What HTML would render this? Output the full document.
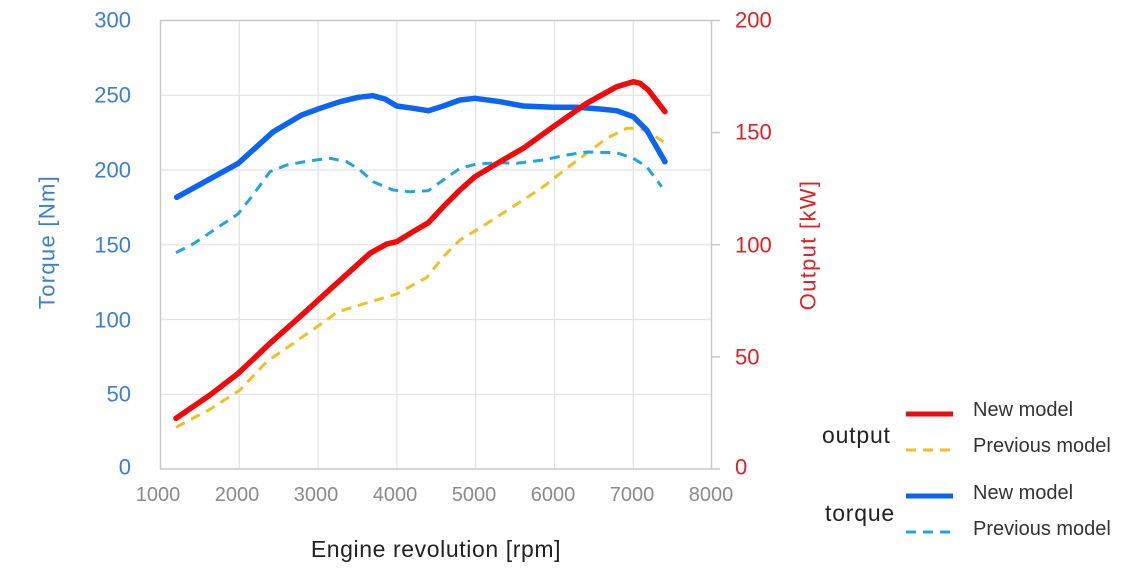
<!DOCTYPE html>
<html><head><meta charset="utf-8"><style>
html,body{margin:0;padding:0;background:#fff;}
svg{display:block;font-family:"Liberation Sans","Noto Sans CJK JP",sans-serif;}
</style></head><body>
<svg width="1140" height="570" viewBox="0 0 1140 570" xmlns="http://www.w3.org/2000/svg">
<rect width="1140" height="570" fill="#fff"/>
<!-- grid -->
<g stroke="#e2e2e2" stroke-width="1.2" fill="none">
<line x1="160.5" y1="95.3" x2="711.5" y2="95.3"/>
<line x1="160.5" y1="170" x2="711.5" y2="170"/>
<line x1="160.5" y1="244.8" x2="711.5" y2="244.8"/>
<line x1="160.5" y1="319.5" x2="711.5" y2="319.5"/>
<line x1="160.5" y1="394.3" x2="711.5" y2="394.3"/>
<line x1="239.3" y1="20.5" x2="239.3" y2="469"/>
<line x1="318.1" y1="20.5" x2="318.1" y2="469"/>
<line x1="396.9" y1="20.5" x2="396.9" y2="469"/>
<line x1="475.7" y1="20.5" x2="475.7" y2="469"/>
<line x1="554.5" y1="20.5" x2="554.5" y2="469"/>
<line x1="633.3" y1="20.5" x2="633.3" y2="469"/>
</g>
<g stroke="#c9c9c9" stroke-width="1.5" fill="none">
<rect x="160.5" y="20.5" width="551" height="448.5"/>
<line x1="711.5" y1="20.5" x2="720" y2="20.5"/>
<line x1="711.5" y1="132.6" x2="720" y2="132.6"/>
<line x1="711.5" y1="244.8" x2="720" y2="244.8"/>
<line x1="711.5" y1="356.9" x2="720" y2="356.9"/>
<line x1="711.5" y1="469" x2="720" y2="469"/>
</g>
<!-- left ticks -->
<g fill="#3c7ed6" font-size="22" text-anchor="end" dominant-baseline="central">
<text x="131" y="20">300</text>
<text x="131" y="95">250</text>
<text x="131" y="170">200</text>
<text x="131" y="245">150</text>
<text x="131" y="320">100</text>
<text x="131" y="394">50</text>
<text x="131" y="467">0</text>
</g>
<!-- right ticks -->
<g fill="#dc2128" font-size="22" text-anchor="start" dominant-baseline="central">
<text x="735" y="20">200</text>
<text x="735" y="132">150</text>
<text x="735" y="245">100</text>
<text x="735" y="357">50</text>
<text x="735" y="467">0</text>
</g>
<!-- bottom ticks -->
<g fill="#8a8a8a" font-size="20" text-anchor="middle" dominant-baseline="central">
<text x="158" y="495">1000</text>
<text x="237" y="495">2000</text>
<text x="316" y="495">3000</text>
<text x="395" y="495">4000</text>
<text x="474" y="495">5000</text>
<text x="553" y="495">6000</text>
<text x="632" y="495">7000</text>
<text x="711" y="495">8000</text>
</g>
<!-- axis titles -->
<text x="436" y="549" fill="#222" font-size="23" letter-spacing="0.6" text-anchor="middle" dominant-baseline="central">Engine revolution [rpm]</text>
<text transform="translate(47,242) rotate(-90)" fill="#3c7ed6" font-size="22" letter-spacing="1.3" text-anchor="middle" dominant-baseline="central">Torque [Nm]</text>
<text transform="translate(808,245) rotate(-90)" fill="#dc2128" font-size="22" letter-spacing="1.3" text-anchor="middle" dominant-baseline="central">Output [kW]</text>

<!-- series -->
<g fill="none" stroke-linejoin="round" stroke-linecap="round">
<polyline stroke="#f0bf22" stroke-width="3" stroke-dasharray="10 7" stroke-linecap="butt"
points="176,427.3 210,409.3 240,390 266.7,361.7 293.3,343.3 326.7,320 336.7,312.3 360,305 396.7,294 426.7,277.5 443.3,256.7 460,240 476.7,230 500,215 523.3,200 543.3,186.7 566.7,168.3 586.7,153.3 606.7,138.3 626.7,128.3 640,128.3 653.3,135 663.3,141.7"/>
<polyline stroke="#1fa6de" stroke-width="3" stroke-dasharray="10 7" stroke-linecap="butt"
points="176,252.7 193,244 238,214 251.7,196.7 270,171.7 286.7,165 310,160.7 330,158.3 346.7,161.7 360,170 373,181.7 393,190 410,191.7 428.3,190.7 443.3,180 460,168.3 476.7,164 500,162.7 516.7,163.3 543.3,160 566.7,155 586.7,152 616.7,152.7 633.3,158.3 646.7,166.7 661.7,186.7"/>
<polyline stroke="#0a66f2" stroke-width="5.5"
points="176.7,197.3 238.3,163.3 273.3,131.7 301.7,115 320,108.3 340,101.7 358.3,97.3 372.7,95.7 385,99 396.7,106 413.3,108.3 428.3,110.7 443.3,106 460,100 475,98.3 500,101.7 523.3,106 553.3,107.3 576.7,107.3 600,109 616.7,110.7 633.3,116.7 646.7,130 665,161.7"/>
<polyline stroke="#f00a0a" stroke-width="5.5"
points="176,418.3 210,395 238.3,373.3 270,343.3 300,316.7 333,286.7 370,253.3 386.7,244 396.7,241.7 413,231.7 428.3,222.7 443.3,206.7 460,190 475,176.7 500,161.7 523.3,148.3 553.3,126.7 586.7,103.3 616.7,86.7 633.3,81.7 640,83.3 648.3,90 665,111.7"/>
</g>

<!-- legend -->
<g font-size="23" fill="#222" dominant-baseline="central" letter-spacing="0.8">
<text x="822" y="435">output</text>
<text x="825" y="513">torque</text>
</g>
<g fill="none">
<line x1="906" y1="414" x2="953" y2="414" stroke="#f00a0a" stroke-width="5"/>
<line x1="906" y1="450" x2="953" y2="450" stroke="#f0bf22" stroke-width="3" stroke-dasharray="10 7"/>
<line x1="906" y1="496" x2="953" y2="496" stroke="#0a66f2" stroke-width="5"/>
<line x1="906" y1="532" x2="953" y2="532" stroke="#1fa6de" stroke-width="3" stroke-dasharray="10 7"/>
</g>
<g font-size="20" fill="#333" dominant-baseline="central">
<text x="973" y="410">New model</text>
<text x="973" y="446">Previous model</text>
<text x="973" y="493">New model</text>
<text x="973" y="529">Previous model</text>
</g>
</svg>
</body></html>
